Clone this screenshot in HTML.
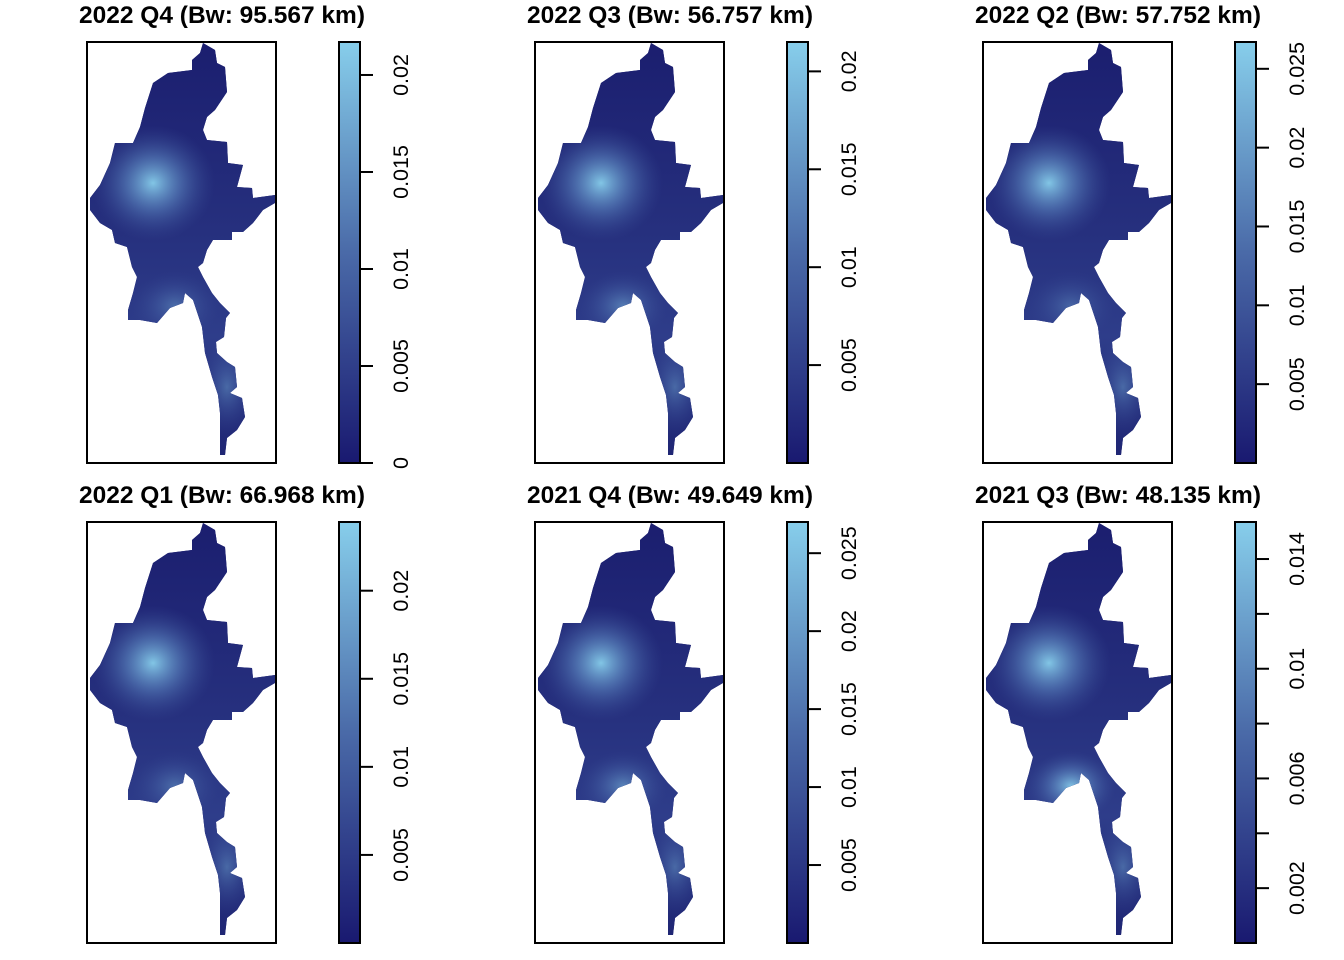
<!DOCTYPE html>
<html><head><meta charset="utf-8"><style>
html,body{margin:0;padding:0;background:#fff;}
svg{display:block;font-family:"Liberation Sans",sans-serif;}
</style></head><body>
<svg id="chart" width="1344" height="960" viewBox="0 0 1344 960">
<defs>
<linearGradient id="cbar" x1="0" y1="1" x2="0" y2="0">
<stop offset="0" stop-color="#191970"/><stop offset="0.5" stop-color="#4a6aa8"/><stop offset="1" stop-color="#87ceeb"/>
</linearGradient>
</defs>
</svg>
<script>
const titles = ["2022 Q4 (Bw: 95.567 km)","2022 Q3 (Bw: 56.757 km)","2022 Q2 (Bw: 57.752 km)","2022 Q1 (Bw: 66.968 km)","2021 Q4 (Bw: 49.649 km)","2021 Q3 (Bw: 48.135 km)"];
const scaleMax = [0.0217,0.0215,0.0267,0.0239,0.027,0.01535];
const scaleMin = [0,0,0,0,0,0];
const tickVals = [[0,0.005,0.01,0.015,0.02],[0.005,0.01,0.015,0.02],[0.005,0.01,0.015,0.02,0.025],[0.005,0.01,0.015,0.02],[0.005,0.01,0.015,0.02,0.025],[0.002,0.004,0.006,0.008,0.01,0.012,0.014]];
const tickLabels = [["0","0.005","0.01","0.015","0.02"],["0.005","0.01","0.015","0.02"],["0.005","0.01","0.015","0.02","0.025"],["0.005","0.01","0.015","0.02"],["0.005","0.01","0.015","0.02","0.025"],["0.002","","0.006","","0.01","","0.014"]];
const mainSpot = [0.95,0.95,0.95,0.95,0.95,0.95];
const southSpot = [0.35,0.45,0.3,0.35,0.5,0.9];

const NS="http://www.w3.org/2000/svg";
const svg=document.getElementById('chart');
const defs=svg.querySelector('defs');
function mk(tag,attrs,parent){const e=document.createElementNS(NS,tag);for(const k in attrs)e.setAttribute(k,attrs[k]);(parent||svg).appendChild(e);return e;}
const shape=[[203,43],[215,50],[217,63],[225,67],[227,92],[215,110],[207,117],[203,130],[207,140],[227,142],[228,163],[243,165],[237,187],[252,188],[253,198],[275,195],[275,203],[263,210],[253,223],[243,232],[232,232],[232,240],[213,240],[207,250],[203,263],[198,267],[203,277],[212,293],[220,303],[230,313],[226,318],[224,337],[216,342],[217,353],[227,362],[235,367],[237,387],[230,393],[242,398],[245,417],[237,430],[227,438],[225,455],[220,455],[220,437],[220,413],[218,395],[212,377],[205,353],[202,327],[193,300],[185,293],[183,303],[170,308],[157,323],[140,320],[128,320],[128,310],[133,293],[137,277],[132,267],[127,247],[115,243],[112,230],[100,223],[90,210],[90,198],[100,185],[110,163],[115,143],[133,143],[140,127],[145,108],[153,83],[168,73],[192,70],[192,60],[200,53]];
const pts=shape.map(p=>(p[0]-87)+','+(p[1]-42)).join(' ');
function grad(id,op){const g=mk('radialGradient',{id:id,cx:'50%',cy:'50%',r:'50%'},defs);
mk('stop',{offset:'0','stop-color':'#87ceeb','stop-opacity':op},g);
mk('stop',{offset:'0.45','stop-color':'#5f8cc4','stop-opacity':op*0.6},g);
mk('stop',{offset:'1','stop-color':'#3a4f98','stop-opacity':0},g);}
for(let i=0;i<6;i++){
  const ox=87+448*(i%3), oy=42+480*Math.floor(i/3);
  const g=mk('g',{transform:`translate(${ox},${oy})`});
  
  
  const cp=mk('clipPath',{id:'clip'+i},defs);mk('polygon',{points:pts},cp);
  const m=mk('g',{'clip-path':`url(#clip${i})`},g);
  
  
  mk('rect',{x:0,y:0,width:189,height:421,fill:'#1b1e6f'},m);
  const lg=mk('linearGradient',{id:'lg'+i,x1:0,y1:0,x2:0,y2:1},defs);
  mk('stop',{offset:'0','stop-color':'#1b1e6f'},lg);mk('stop',{offset:'0.45','stop-color':'#26307e'},lg);
  mk('stop',{offset:'0.7','stop-color':'#2e3d8a'},lg);mk('stop',{offset:'1','stop-color':'#1e2472'},lg);
  mk('rect',{x:0,y:0,width:189,height:421,fill:`url(#lg${i})`},m);
  grad('m'+i,mainSpot[i]);grad('s'+i,southSpot[i]);grad('t'+i,0.35);
  mk('ellipse',{cx:66,cy:141,rx:62,ry:58,fill:`url(#m${i})`},m);
  mk('ellipse',{cx:88,cy:264,rx:45,ry:35,fill:`url(#s${i})`},m);
  mk('ellipse',{cx:140,cy:345,rx:30,ry:50,fill:`url(#t${i})`},m);
  mk('rect',{x:0,y:0,width:189,height:421,fill:'none',stroke:'#000','stroke-width':2},g);
  const t=mk('text',{x:135,y:-19,'text-anchor':'middle','font-size':24.5,'font-weight':'bold'},g);t.textContent=titles[i];
  
  
  const cb=mk('rect',{x:252,y:0,width:21,height:421,fill:'url(#cbar)',stroke:'#000','stroke-width':2},g);
  
  
  const ys=v=>421-(v-scaleMin[i])/(scaleMax[i]-scaleMin[i])*421;
  tickVals[i].forEach((v,j)=>{const y=ys(v);
    mk('line',{x1:273,x2:286,y1:y,y2:y,stroke:'#000','stroke-width':2},g);
    if(tickLabels[i][j]){const tl=mk('text',{x:0,y:0,transform:`translate(321,${y}) rotate(-90)`,'text-anchor':'middle','font-size':21.5},g);tl.textContent=tickLabels[i][j];
    
    }
  });
}
</script>
</body></html>
